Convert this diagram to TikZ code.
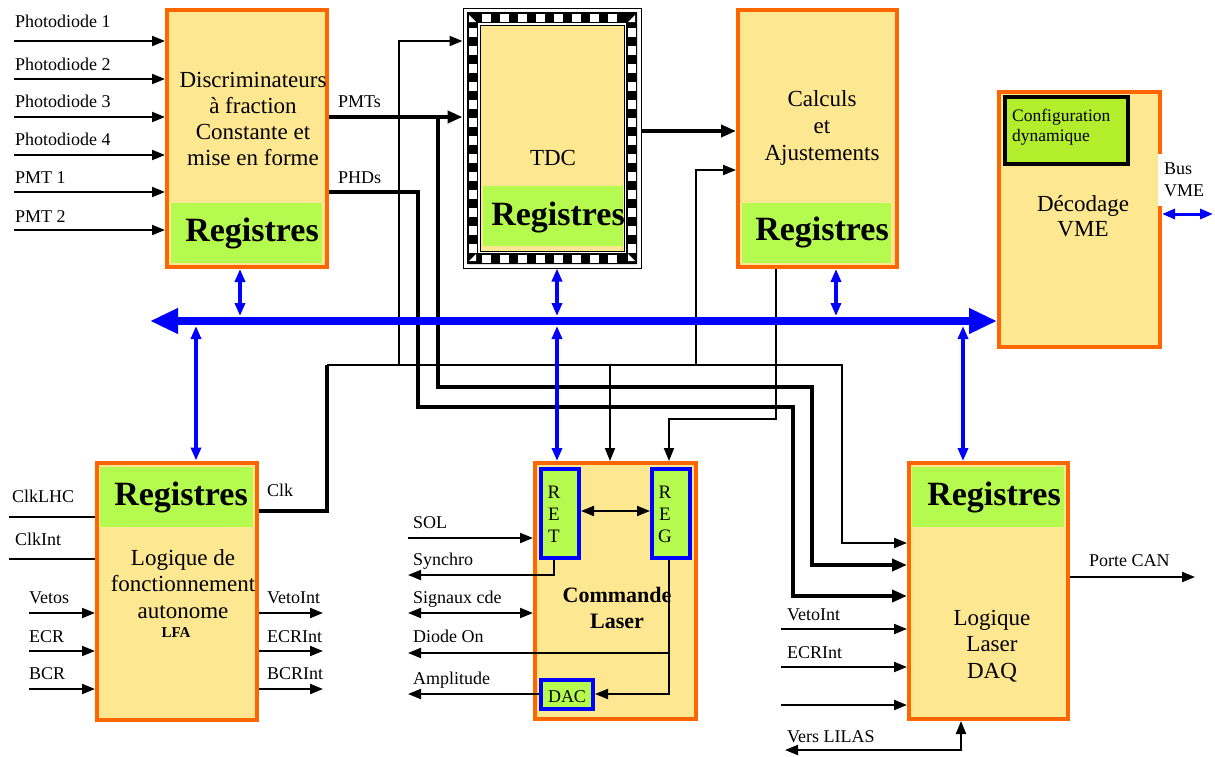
\documentclass[tikz,border=0pt]{standalone}
\usepackage{fontspec}
\setmainfont{Liberation Serif}
\usetikzlibrary{arrows.meta}
\definecolor{orB}{RGB}{255,102,0}
\definecolor{yelF}{RGB}{253,231,145}
\definecolor{grnF}{RGB}{181,250,78}
\definecolor{cfgF}{RGB}{178,238,44}
\begin{document}
\begin{tikzpicture}[x=1pt,y=-1pt,
  blk/.style={draw=orB,line width=4pt,fill=yelF,inner sep=0pt},
  regbg/.style={fill=grnF,draw=none,inner sep=0pt},
  regtxt/.style={font=\fontsize{34}{38}\selectfont\bfseries,inner sep=0pt},
  maintxt/.style={font=\fontsize{23}{26}\selectfont,align=center,inner sep=0pt},
  lettr/.style={font=\fontsize{19}{22}\selectfont,align=center,inner sep=0pt},
  lab/.style={font=\fontsize{18}{20}\selectfont,inner sep=0pt,anchor=base west},
  bluebox/.style={draw=blue,line width=4pt,fill=grnF,inner sep=0pt},
  sig/.style={line width=2pt},
  bigsig/.style={line width=4pt},
  arr/.style={-{Triangle[length=13pt,width=10pt]}},
  darr/.style={{Triangle[length=13pt,width=10pt]}-{Triangle[length=13pt,width=10pt]}},
  barr/.style={-{Triangle[length=15pt,width=12pt]}},
  blarr/.style={draw=blue,line width=3.5pt,{Triangle[length=13pt,width=10pt]}-{Triangle[length=13pt,width=10pt]}},
  vmebus/.style={draw=blue,line width=8pt,{Triangle[length=28pt,width=24pt]}-{Triangle[length=28pt,width=24pt]}}
]
\useasboundingbox (0,0) rectangle (1215,756);

% ---------- Discriminateurs
\node[blk,minimum width=160pt,minimum height=257pt] (disc) at (247,138.5) {};
\node[regbg,minimum width=151pt,minimum height=60pt] (discreg) at (246.5,233) {};
\node[maintxt] (disct) at (253,119) {Discriminateurs\\à fraction\\Constante et\\mise en forme};
\node[regtxt] (discrt) at (252,233) {Registres};

% ---------- TDC
\node[draw,line width=1pt,minimum width=178pt,minimum height=260pt,inner sep=0pt] (tdc) at (552,138) {};
\fill[black,even odd rule] (467,12) rectangle (637,264) (478,23) rectangle (626,253);
\foreach \x in {482,500,...,616} {
  \fill[white] (\x,14) rectangle ++(9,7.5);
  \fill[white] (\x,255) rectangle ++(9,7.5);
}
\foreach \y in {28,46,...,244} {
  \fill[white] (469,\y) rectangle ++(7.5,9);
  \fill[white] (628,\y) rectangle ++(7.5,9);
}
\fill[white] (469,15) -- (476,22) -- (469,22) -- cycle;
\fill[white] (635,15) -- (628,22) -- (635,22) -- cycle;
\fill[white] (469,261) -- (476,254) -- (476,261) -- cycle;
\fill[white] (635,261) -- (628,254) -- (628,261) -- cycle;
\fill[white] (478,23) rectangle (626,253);
\draw[line width=0.8pt,fill=yelF] (480,25) rectangle (624,251);
\fill[grnF] (483,186) rectangle (623,246);
\node[maintxt] (tdct) at (553,158) {TDC};
\node[regtxt] (tdcrt) at (558,217) {Registres};

% ---------- Calculs
\node[blk,minimum width=159pt,minimum height=257pt] (calc) at (817.5,138.5) {};
\node[regbg,minimum width=149pt,minimum height=60pt] (calcreg) at (816.5,233) {};
\node[maintxt,font=\fontsize{23}{27}\selectfont] (calct) at (822,128) {Calculs\\et\\Ajustements};
\node[regtxt] (calcrt) at (822,232) {Registres};

% ---------- Decodage VME
\node[blk,minimum width=161pt,minimum height=255pt] (vme) at (1079.5,219.5) {};
\node[draw=black,line width=4pt,fill=cfgF,minimum width=123pt,minimum height=67pt,inner sep=0pt] (cfg) at (1066.5,130.5) {};
\node[font=\fontsize{17.5}{20}\selectfont,align=left,anchor=west,inner sep=0pt] (cfgt) at (1012,127) {Configuration\\dynamique};
\node[maintxt,font=\fontsize{23}{25}\selectfont] (vmet) at (1083,216) {Décodage\\VME};
\node[font=\fontsize{18}{22}\selectfont,align=left,fill=white,inner xsep=6pt,inner ysep=9pt,anchor=west] (buslab) at (1158,180) {Bus\\VME};

% ---------- LFA
\node[blk,minimum width=160pt,minimum height=257pt] (lfa) at (177,591) {};
\node[regbg,minimum width=153pt,minimum height=60pt] (lfareg) at (176,497) {};
\node[regtxt] (lfart) at (181,497) {Registres};
\node[maintxt,font=\fontsize{23}{26.5}\selectfont] (lfat) at (183,584) {Logique de\\fonctionnement\\autonome};
\node[font=\fontsize{15}{17}\selectfont\bfseries,inner sep=0pt] (lfaabbr) at (176,633) {LFA};

% ---------- Commande Laser
\node[blk,minimum width=161pt,minimum height=256pt] (cl) at (615.5,591) {};
\node[bluebox,minimum width=38pt,minimum height=89pt] (ret) at (560,513.5) {};
\node[bluebox,minimum width=38pt,minimum height=89pt] (reg) at (671,513.5) {};
\node[lettr] (rett) at (554,514) {R\\E\\T};
\node[lettr] (regt) at (665,514) {R\\E\\G};
\node[bluebox,minimum width=52pt,minimum height=29pt] (dac) at (567,694.5) {};
\node[font=\fontsize{18}{20}\selectfont,inner sep=0pt] (dact) at (567,697) {DAC};
\node[font=\fontsize{22}{26}\selectfont\bfseries,align=center,inner sep=0pt] (clt) at (617,608) {Commande\\Laser};

% ---------- DAQ
\node[blk,minimum width=159pt,minimum height=256pt] (daq) at (988.5,591) {};
\node[regbg,minimum width=152pt,minimum height=60pt] (daqreg) at (988,497) {};
\node[regtxt] (daqrt) at (994,497) {Registres};
\node[maintxt,font=\fontsize{23}{26.5}\selectfont] (daqt) at (992,646) {Logique\\Laser\\DAQ};

% ---------- free-end coordinates
\coordinate (pd1) at (14,41);
\coordinate (pd2) at (14,79);
\coordinate (pd3) at (14,117);
\coordinate (pd4) at (14,155);
\coordinate (pm1) at (14,192);
\coordinate (pm2) at (14,230);
\coordinate (clklhc) at (9,517);
\coordinate (clkint) at (9,559);
\coordinate (vetos) at (29,613);
\coordinate (ecr) at (29,651);
\coordinate (bcr) at (29,689);
\coordinate (vetoint) at (323,613);
\coordinate (ecrint) at (323,651);
\coordinate (bcrint) at (323,689);
\coordinate (sol) at (408,538);
\coordinate (synchro) at (408,575);
\coordinate (sigcde) at (408,613);
\coordinate (diodeon) at (408,653);
\coordinate (ampl) at (408,694);
\coordinate (dvetoint) at (781,629);
\coordinate (decrint) at (781,667);
\coordinate (dthird) at (781,705);
\coordinate (lilas) at (785,750);
\coordinate (portecan) at (1195,577);
\coordinate (busvme) at (1213,214);

% ---------- inputs of the discriminators
\foreach \c in {pd1,pd2,pd3,pd4,pm1,pm2}
  \draw[sig,arr] (\c) -- (disc.west |- \c);

% ---------- LFA I/O
\draw[sig] (clklhc) -- (lfa.west |- clklhc);
\draw[sig] (clkint) -- (lfa.west |- clkint);
\foreach \c in {vetos,ecr,bcr}
  \draw[sig,arr] (\c) -- (lfa.west |- \c);
\foreach \c in {vetoint,ecrint,bcrint}
  \draw[sig,arr] (lfa.east |- \c) -- (\c);

% ---------- Clk distribution
\coordinate (clk0) at (327,511);
\coordinate (clk1) at (327,365);
\draw[bigsig] (lfa.east |- clk0) -- (clk0) -- (clk1);
\draw[sig,arr] (clk1) -- (842,365) -- (842,543) -- (daq.west |- 0,543);
\draw[sig,arr] (399,365) -- (399,41) -- (tdc.west |- 0,41);
\draw[sig,arr] (610,365) -- (cl.north -| 610,0);
\draw[sig,arr] (696,365) -- (696,170) -- (calc.west |- 0,170);

% ---------- PMTs / PHDs
\draw[bigsig,barr] (disc.east |- 0,117) -- (tdc.west |- 0,117);
\draw[bigsig,barr] (438,117) -- (438,387) -- (812,387) -- (812,565) -- (daq.west |- 0,565);
\draw[bigsig,barr] (disc.east |- 0,192) -- (418,192) -- (418,407) -- (793,407) -- (793,596) -- (daq.west |- 0,596);
\draw[bigsig,barr] (tdc.east |- 0,131) -- (calc.west |- 0,131);

% ---------- Calculs -> REG
\draw[sig,arr] (calc.south -| 776,0) -- (776,419) -- (669,419) -- (cl.north -| 669,0);

% ---------- Commande Laser internals
\draw[sig,arr] (sol) -- (cl.west |- sol);
\draw[sig,arr] (ret.south -| 554,0) -- (554,575) -- (synchro);
\draw[sig,darr] (sigcde) -- (cl.west |- sigcde);
\draw[sig,darr] (ret.east |- 0,511) -- (reg.west |- 0,511);
\draw[sig,arr] (reg.south -| 669,0) -- (669,694) -- (dac.east |- 0,694);
\draw[sig,arr] (669,653) -- (diodeon);
\draw[sig,arr] (dac.west |- ampl) -- (ampl);

% ---------- DAQ I/O
\foreach \c in {dvetoint,decrint,dthird}
  \draw[sig,arr] (\c) -- (daq.west |- \c);
\draw[sig,darr] (lilas) -- (961,750) -- (daq.south -| 961,0);
\draw[sig,arr] (daq.east |- portecan) -- (portecan);

% ---------- VME bus and register links
\draw[vmebus] (150,321) -- (vme.west |- 0,321);
\draw[blarr] (disc.south -| 240,0) -- (240,316);
\draw[blarr] (tdc.south -| 557,0) -- (557,316);
\draw[blarr] (calc.south -| 836,0) -- (836,316);
\draw[blarr] (196,326) -- (lfa.north -| 196,0);
\draw[blarr] (557,326) -- (cl.north -| 557,0);
\draw[blarr] (963,326) -- (daq.north -| 963,0);
\draw[blarr,line width=3pt] (vme.east |- busvme) -- (busvme);

% ---------- labels
\node[lab] (lpd1) at (15,27) {Photodiode 1};
\node[lab] (lpd2) at (15,70) {Photodiode 2};
\node[lab] (lpd3) at (15,107) {Photodiode 3};
\node[lab] (lpd4) at (15,145) {Photodiode 4};
\node[lab] (lpm1) at (15,183) {PMT 1};
\node[lab] (lpm2) at (15,222) {PMT 2};
\node[lab] (lpmts) at (338,107) {PMTs};
\node[lab] (lphds) at (338,183) {PHDs};
\node[lab] (lclklhc) at (12,502) {ClkLHC};
\node[lab] (lclkint) at (15,545) {ClkInt};
\node[lab] (lvetos) at (29,603) {Vetos};
\node[lab] (lecr) at (29,642) {ECR};
\node[lab] (lbcr) at (29,679) {BCR};
\node[lab] (lvetoint) at (267,603) {VetoInt};
\node[lab] (lecrint) at (267,642) {ECRInt};
\node[lab] (lbcrint) at (267,679) {BCRInt};
\node[lab] (lclk) at (267,496) {Clk};
\node[lab] (lsol) at (413,528) {SOL};
\node[lab] (lsynchro) at (413,565) {Synchro};
\node[lab] (lsigcde) at (413,603) {Signaux cde};
\node[lab] (ldiodeon) at (413,642) {Diode On};
\node[lab] (lampl) at (413,684) {Amplitude};
\node[lab] (ldvetoint) at (787,620) {VetoInt};
\node[lab] (ldecrint) at (787,658) {ECRInt};
\node[lab] (llilas) at (787,742) {Vers LILAS};
\node[lab] (lporte) at (1089,566) {Porte CAN};
\end{tikzpicture}
\end{document}
